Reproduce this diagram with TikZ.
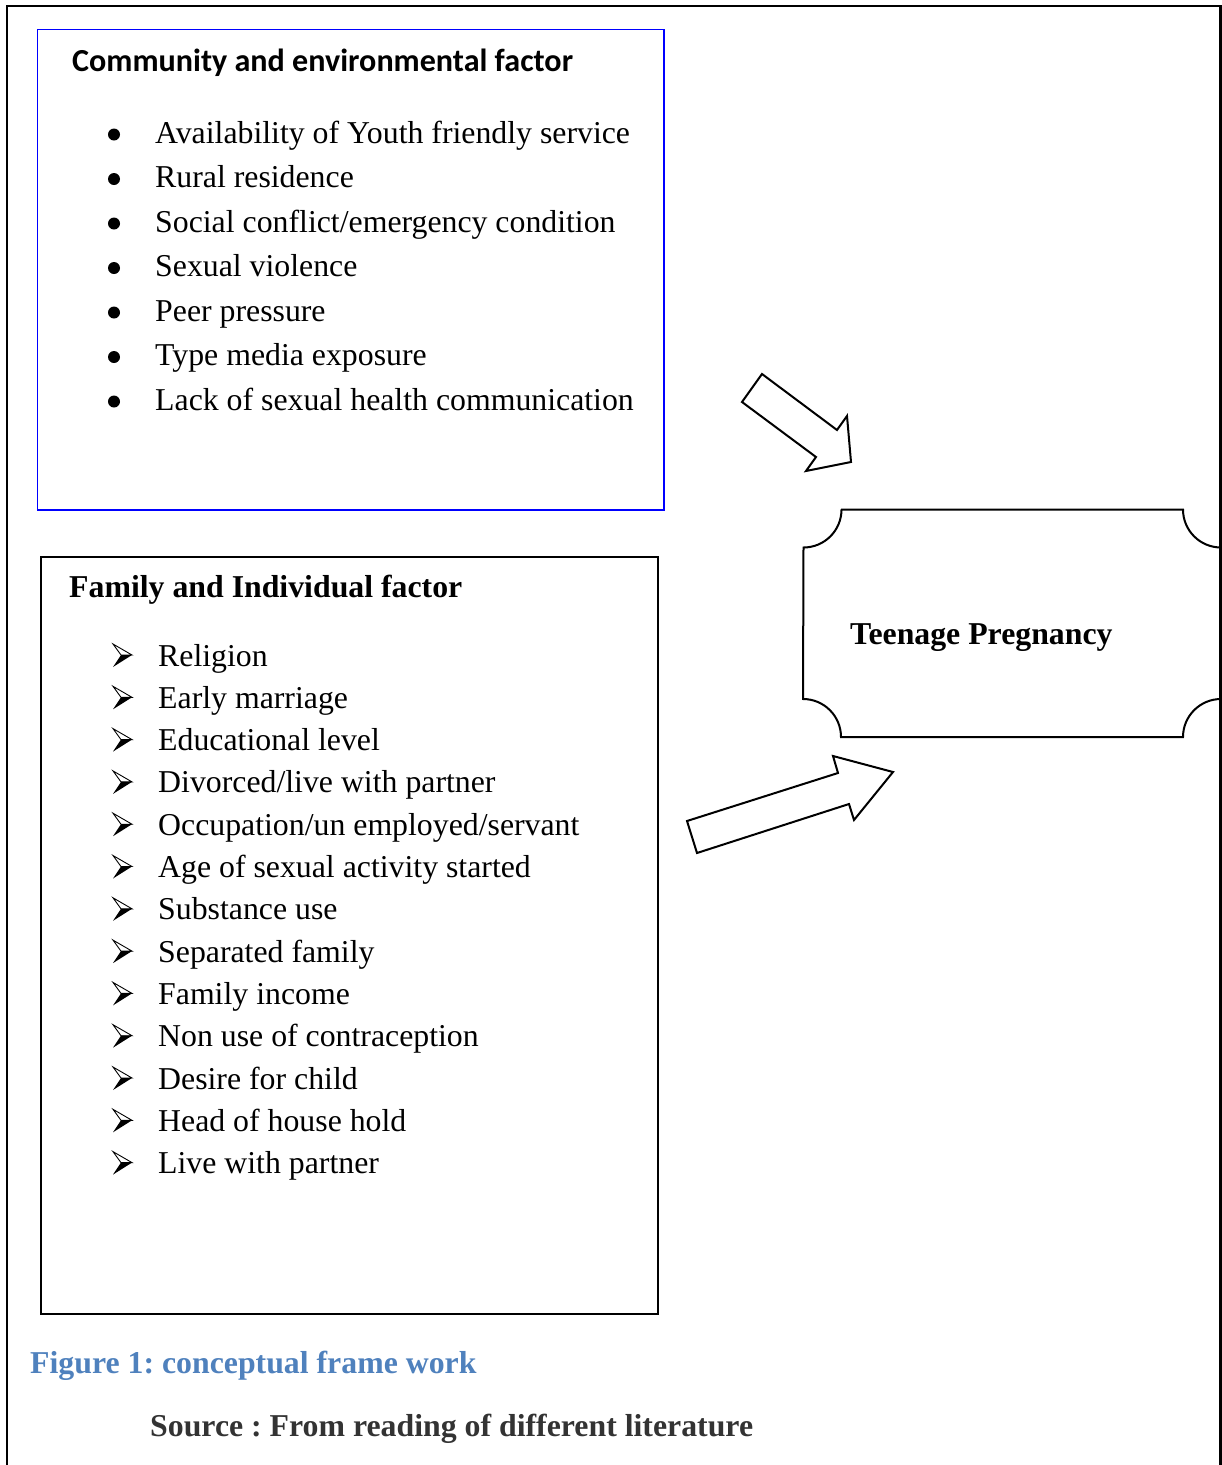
\documentclass[tikz,border=0pt]{standalone}
\usepackage{fontspec}
\setmainfont{Liberation Serif}
\newfontfamily\calibfont{Carlito}
\frenchspacing
\definecolor{capblue}{HTML}{4F81BD}
\definecolor{srcgray}{HTML}{333333}
\definecolor{boxblue}{HTML}{0000FF}
\tikzset{
  txt/.style={anchor=base west, inner sep=0pt, font=\fontsize{31.8}{38}\selectfont},
  btxt/.style={txt, font=\fontsize{31.8}{38}\selectfont\bfseries},
  blockarrow/.style={draw=black, line width=2pt, fill=white, line join=miter},
  frameline/.style={draw=black, line width=2.5pt},
}
\begin{document}
\begin{tikzpicture}[x=1pt,y=-1pt]
\useasboundingbox (0,0) rectangle (1222,1465);
% outer frame (open at the bottom)
\draw[frameline] (7,1470) -- (7,6) -- (1220.5,6) -- (1220.5,1470);

% community box
\draw[draw=boxblue, line width=1.8pt] (37.5,29.5) rectangle (664,510);
\node[txt, font=\fontsize{32.1}{38}\selectfont\calibfont\bfseries] (ctitle) at (72,71) {Community and environmental factor};
\foreach [count=\i] \t in {{Availability of Youth friendly service},{Rural residence},{Social conflict/emergency condition},{Sexual violence},{Peer pressure},{Type media exposure},{Lack of sexual health communication}} {
  \fill (114,{134.5+44.5*(\i-1)}) circle[radius=6];
  \node[txt] (c\i) at (155,{143+44.5*(\i-1)}) {\t};
}

% family box
\draw[draw=black, line width=2pt] (41,557) rectangle (658,1314);
\node[btxt] (ftitle) at (69,597) {Family and Individual factor};
\foreach [count=\i] \t in {{Religion},{Early marriage},{Educational level},{Divorced/live with partner},{Occupation/un employed/servant},{Age of sexual activity started},{Substance use},{Separated family},{Family income},{Non use of contraception},{Desire for child},{Head of house hold},{Live with partner}} {
  \pgfmathsetmacro{\b}{666+42.3*(\i-1)}
  \draw[line width=0.9pt, line join=miter] (113,\b-22) -- (132,\b-11) -- (121,\b-11) -- cycle;
  \fill (121,\b-11) -- (132,\b-11) -- (113,\b+1) -- cycle;
  \node[txt] (f\i) at (158,\b) {\t};
}

% teenage pregnancy plaque
\draw[line width=2pt] (841,509.5) -- (1183,509.5)
  arc[start angle=180, end angle=90, radius=38] -- (1221,699)
  arc[start angle=270, end angle=180, radius=38] -- (841,737)
  arc[start angle=0, end angle=-90, radius=38] -- (803.5,547.5)
  arc[start angle=90, end angle=0, radius=38] -- cycle;
\node[btxt] (tp) at (850,644) {Teenage Pregnancy};

% block arrows
\draw[blockarrow] (762,374) -- (837,430) -- (847,416) -- (851,462) -- (806,471) -- (816,457) -- (742,402) -- cycle;
\draw[blockarrow] (687,821) -- (838,773) -- (833,756) -- (893,772) -- (854,820) -- (849,804) -- (697,853) -- cycle;

% captions
\node[btxt, text=capblue] (cap) at (30,1373) {Figure 1: conceptual frame work};
\node[btxt, text=srcgray] (src) at (150,1436) {Source : From reading of different literature};
\end{tikzpicture}
\end{document}
